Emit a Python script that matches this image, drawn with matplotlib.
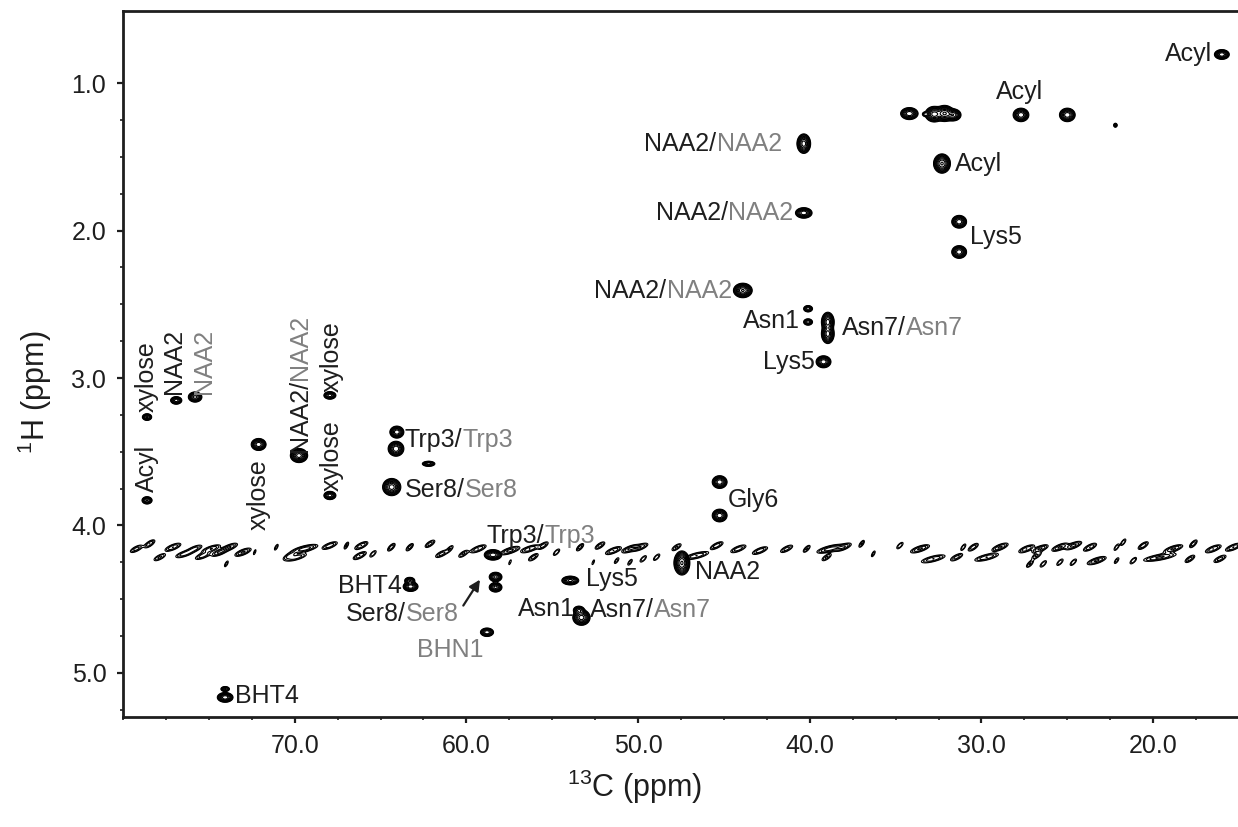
import numpy as np
import matplotlib
matplotlib.use('Agg')
import matplotlib.pyplot as plt
from matplotlib.ticker import FixedLocator, FormatStrFormatter

plt.rcParams['font.family'] = ['Liberation Sans', 'DejaVu Sans']
plt.rcParams['mathtext.default'] = 'regular'

BLACK = '#1e1e1e'
GRAY = '#808080'
FS = 18

# ── Assigned cross peaks (13C ppm, 1H ppm, intensity, linewidths) ────────────
peak_c = [16.0, 34.2, 33.3, 32.75, 32.15, 31.65, 27.7, 25.0, 22.2, 32.3,
          31.3, 31.3, 40.35, 40.35, 43.9, 40.1, 40.1, 38.95, 38.95, 39.2,
          78.6, 78.6, 76.9, 75.8, 72.1, 69.75, 67.95, 67.95, 64.05, 64.1,
          62.2, 64.35, 58.45, 58.3, 58.3, 63.3, 63.25, 58.8, 74.05, 74.05,
          45.25, 45.25, 53.95, 47.45, 53.45, 53.3]
peak_h = [0.805, 1.206, 1.21, 1.21, 1.205, 1.215, 1.215, 1.215, 1.285, 1.545,
          1.94, 2.145, 1.41, 1.88, 2.406, 2.53, 2.62, 2.62, 2.70, 2.89,
          3.83, 3.265, 3.152, 3.129, 3.451, 3.526, 3.118, 3.797, 3.367, 3.48,
          3.582, 3.74, 4.20, 4.35, 4.42, 4.375, 4.415, 4.725, 5.11, 5.167,
          3.706, 3.933, 4.374, 4.255, 4.575, 4.625]
peak_amp = [3, 3, 0.5, 4, 5, 3, 3, 3, 0.5, 5,
            3, 3, 4, 3, 5, 1.2, 1.2, 4, 4, 3,
            1.5, 1.5, 1.8, 2.5, 3, 4, 1.8, 1.8, 3, 3,
            1.2, 4, 3, 2.5, 2.5, 1.5, 3, 2, 1.0, 3,
            3, 3, 2.5, 5, 1.5, 4]
peak_wc = [0.17, 0.2, 0.08, 0.2, 0.2, 0.18, 0.18, 0.18, 0.06, 0.18,
           0.17, 0.17, 0.15, 0.19, 0.2, 0.12, 0.12, 0.14, 0.14, 0.17,
           0.13, 0.12, 0.14, 0.16, 0.17, 0.19, 0.15, 0.15, 0.16, 0.18,
           0.17, 0.2, 0.2, 0.15, 0.15, 0.13, 0.17, 0.16, 0.12, 0.18,
           0.17, 0.17, 0.2, 0.17, 0.14, 0.19]
peak_wh = [0.013, 0.016, 0.008, 0.02, 0.02, 0.016, 0.018, 0.018, 0.008, 0.024,
           0.017, 0.017, 0.025, 0.014, 0.018, 0.01, 0.01, 0.025, 0.025, 0.016,
           0.011, 0.01, 0.011, 0.014, 0.016, 0.018, 0.011, 0.012, 0.016, 0.02,
           0.008, 0.022, 0.014, 0.013, 0.013, 0.01, 0.013, 0.012, 0.008, 0.013,
           0.017, 0.017, 0.012, 0.03, 0.012, 0.02]

# ── Crowded band of weak signals around 4.1-4.3 ppm ─────────────────────────
noise_c = [79.22, 78.45, 77.86, 77.09, 76.41, 75.83, 75.34, 74.86, 74.37, 73.79,
           73.98, 73.01, 72.33, 71.07, 70.29, 69.42, 69.91, 67.96, 66.99, 66.12,
           66.21, 65.44, 64.37, 63.30, 62.12, 61.44, 60.96, 60.18, 59.31, 57.46,
           56.30, 55.52, 56.10, 54.75, 53.38, 52.22, 51.44, 50.47, 49.89, 51.25,
           50.47, 49.70, 48.92, 47.76, 52.61, 57.46, 46.59, 45.42, 44.16, 42.90,
           41.35, 40.18, 38.82, 38.05, 39.02, 36.98, 36.30, 34.75, 33.58, 32.81,
           31.45, 31.06, 30.48, 28.92, 29.70, 27.37, 26.59, 26.79, 25.43, 24.65,
           23.68, 27.18, 26.40, 25.43, 24.65, 23.29, 22.13, 21.74, 22.13, 21.16,
           20.58, 19.61, 18.83, 17.66, 17.86, 16.50, 16.11, 15.33]
noise_h = [4.159, 4.125, 4.216, 4.148, 4.193, 4.159, 4.205, 4.159, 4.182, 4.148,
           4.261, 4.182, 4.182, 4.148, 4.205, 4.159, 4.216, 4.137, 4.137, 4.137,
           4.205, 4.193, 4.148, 4.148, 4.125, 4.193, 4.159, 4.193, 4.159, 4.171,
           4.159, 4.137, 4.216, 4.182, 4.148, 4.137, 4.171, 4.159, 4.148, 4.239,
           4.250, 4.227, 4.216, 4.148, 4.250, 4.250, 4.205, 4.137, 4.159, 4.171,
           4.159, 4.159, 4.159, 4.148, 4.216, 4.125, 4.193, 4.137, 4.159, 4.227,
           4.216, 4.148, 4.148, 4.148, 4.216, 4.159, 4.159, 4.205, 4.148, 4.137,
           4.148, 4.261, 4.261, 4.250, 4.250, 4.239, 4.148, 4.114, 4.239, 4.239,
           4.137, 4.216, 4.159, 4.125, 4.227, 4.159, 4.227, 4.148]
noise_amp = [0.4, 0.5, 0.35, 0.5, 0.45, 0.4, 0.45, 0.5, 0.55, 0.5,
             0.25, 0.55, 0.2, 0.25, 0.4, 0.7, 0.45, 0.45, 0.35, 0.5,
             0.5, 0.3, 0.45, 0.4, 0.4, 0.4, 0.3, 0.35, 0.5, 0.6,
             0.5, 0.4, 0.4, 0.3, 0.4, 0.4, 0.5, 0.55, 0.5, 0.25,
             0.25, 0.3, 0.3, 0.35, 0.2, 0.2, 0.5, 0.45, 0.45, 0.45,
             0.4, 0.35, 0.7, 0.5, 0.35, 0.35, 0.25, 0.3, 0.55, 0.5,
             0.4, 0.3, 0.45, 0.55, 0.5, 0.5, 0.55, 0.35, 0.55, 0.6,
             0.5, 0.35, 0.3, 0.3, 0.3, 0.55, 0.3, 0.3, 0.25, 0.3,
             0.45, 0.55, 0.55, 0.45, 0.4, 0.5, 0.4, 0.5]
noise_wc = [0.25, 0.2, 0.25, 0.3, 0.35, 0.3, 0.3, 0.35, 0.3, 0.3,
            0.1, 0.3, 0.08, 0.1, 0.25, 0.45, 0.4, 0.3, 0.1, 0.25,
            0.25, 0.15, 0.15, 0.15, 0.2, 0.25, 0.15, 0.2, 0.3, 0.35,
            0.35, 0.2, 0.2, 0.15, 0.15, 0.2, 0.3, 0.3, 0.3, 0.12,
            0.12, 0.15, 0.15, 0.2, 0.08, 0.08, 0.45, 0.25, 0.3, 0.3,
            0.25, 0.15, 0.45, 0.3, 0.2, 0.12, 0.1, 0.15, 0.35, 0.45,
            0.25, 0.12, 0.2, 0.3, 0.45, 0.3, 0.3, 0.2, 0.3, 0.3,
            0.25, 0.15, 0.15, 0.15, 0.15, 0.35, 0.12, 0.12, 0.12, 0.15,
            0.2, 0.6, 0.35, 0.15, 0.2, 0.3, 0.25, 0.3]
NOISE_WH = 0.016

# ── Build the 2D spectrum on a grid ─────────────────────────────────────────
cc = np.arange(14.0, 81.0, 0.035)
hh = np.arange(0.45, 5.35, 0.0035)
Z = np.zeros((hh.size, cc.size))
Zn = np.zeros((hh.size, cc.size))


def add_peak(grid, c0, h0, amp, wc, wh, rho=0.0):
    ic = np.where((cc > c0 - 6 * wc) & (cc < c0 + 6 * wc))[0]
    ih = np.where((hh > h0 - 6 * wh) & (hh < h0 + 6 * wh))[0]
    u = (cc[ic] - c0) / wc
    v = (hh[ih] - h0) / wh
    U, V = np.meshgrid(u, v)
    q = (U ** 2 - 2 * rho * U * V + V ** 2) / (1 - rho ** 2)
    grid[np.ix_(ih, ic)] += amp * np.exp(-0.5 * q)


for c0, h0, a, wc, wh in zip(peak_c, peak_h, peak_amp, peak_wc, peak_wh):
    add_peak(Z, c0, h0, a, wc, wh)
for c0, h0, a, wc in zip(noise_c, noise_h, noise_amp, noise_wc):
    add_peak(Zn, c0, h0, a * 0.85, wc * 0.9, NOISE_WH, rho=0.7)

levels = 0.12 * 1.5 ** np.arange(10)

fig = plt.figure(figsize=(12.38, 8.27), dpi=100)
ax = fig.add_axes([123 / 1238, 110 / 827, 1115 / 1238, 706 / 827])
ax.contour(cc, hh, Z, levels=levels, colors='black', linewidths=0.8)
ax.contour(cc, hh, Zn, levels=[0.1, 0.16, 0.26, 0.42], colors='black', linewidths=0.8)

ax.set_xlim(80, 15.06)
ax.set_ylim(5.30, 0.51)

for side in ['left', 'top', 'bottom']:
    ax.spines[side].set_linewidth(2.0)
    ax.spines[side].set_color(BLACK)
ax.spines['right'].set_visible(False)

ax.xaxis.set_major_locator(FixedLocator([20, 30, 40, 50, 60, 70]))
ax.xaxis.set_minor_locator(FixedLocator(np.arange(15, 80.1, 2.5)))
ax.yaxis.set_major_locator(FixedLocator([1, 2, 3, 4, 5]))
ax.yaxis.set_minor_locator(FixedLocator(np.arange(1.0, 5.3, 0.25)))
ax.xaxis.set_major_formatter(FormatStrFormatter('%.1f'))
ax.yaxis.set_major_formatter(FormatStrFormatter('%.1f'))
ax.tick_params(which='major', length=4, width=1.6, labelsize=FS, colors=BLACK, pad=8)
ax.tick_params(which='minor', length=2.5, width=1.2, colors=BLACK)
ax.tick_params(axis='x', which='both', top=False)
ax.tick_params(axis='y', which='both', right=False)

fig.text(635 / 1238, 1 - 787 / 827, '$^{13}$C (ppm)', fontsize=22, color=BLACK,
         ha='center', va='center')
fig.text(35 / 1238, 1 - 392 / 827, '$^{1}$H (ppm)', fontsize=22, color=BLACK,
         ha='center', va='center', rotation=90)


# ── Labels ──────────────────────────────────────────────────────────────────
def label(c, h, black='', gray='', ha='left', va='center'):
    if black and gray:
        if ha == 'right':
            t = ax.text(c, h, gray, color=GRAY, fontsize=FS, ha='right', va=va)
            ax.annotate(black, xy=(0, 0), xycoords=t, color=BLACK, fontsize=FS,
                        ha='right', va='bottom')
        else:
            t = ax.text(c, h, black, color=BLACK, fontsize=FS, ha=ha, va=va)
            ax.annotate(gray, xy=(1, 0), xycoords=t, color=GRAY, fontsize=FS,
                        ha='left', va='bottom')
    elif black:
        ax.text(c, h, black, color=BLACK, fontsize=FS, ha=ha, va=va)
    else:
        ax.text(c, h, gray, color=GRAY, fontsize=FS, ha=ha, va=va)


def vlabel(c, h, black='', gray='', va='bottom'):
    if black:
        t = ax.text(c, h, black, color=BLACK, fontsize=FS, rotation=90,
                    ha='center', va=va)
        if gray:
            ax.annotate(gray, xy=(0.5, 1), xycoords=t, color=GRAY, fontsize=FS,
                        rotation=90, ha='center', va='bottom')
    else:
        ax.text(c, h, gray, color=GRAY, fontsize=FS, rotation=90,
                ha='center', va=va)


label(16.58, 0.805, 'Acyl', ha='right')
label(27.76, 1.057, 'Acyl', ha='center')
label(31.54, 1.545, 'Acyl')
label(30.67, 2.041, 'Lys5')
label(41.64, 1.41, 'NAA2/', 'NAA2', ha='right')
label(40.98, 1.878, 'NAA2/', 'NAA2', ha='right')
label(44.55, 2.408, 'NAA2/', 'NAA2', ha='right')
label(40.57, 2.611, 'Asn1', ha='right')
label(38.14, 2.659, 'Asn7/', 'Asn7')
label(39.70, 2.89, 'Lys5', ha='right')
label(63.58, 3.424, 'Trp3/', 'Trp3')
label(63.58, 3.763, 'Ser8/', 'Ser8')
label(44.75, 3.831, 'Gly6')
label(58.80, 4.071, 'Trp3/', 'Trp3')
label(63.77, 4.408, 'BHT4', ha='right')
label(53.03, 4.363, 'Lys5')
label(46.69, 4.317, 'NAA2')
label(60.47, 4.600, 'Ser8/', 'Ser8', ha='right')
label(59.02, 4.843, gray='BHN1', ha='right')
label(53.67, 4.567, 'Asn1', ha='right')
label(52.80, 4.571, 'Asn7/', 'Asn7')
label(73.48, 5.155, 'BHT4')

vlabel(78.62, 3.774, 'Acyl')
vlabel(78.62, 3.231, 'xylose')
vlabel(77.03, 3.107, 'NAA2')
vlabel(75.28, 3.107, gray='NAA2')
vlabel(72.08, 3.548, 'xylose', va='top')
vlabel(69.69, 3.501, 'NAA2/', 'NAA2')
vlabel(67.85, 3.093, 'xylose')
vlabel(67.85, 3.765, 'xylose')

ax.annotate('', xy=(59.21, 4.368), xytext=(60.18, 4.544),
            arrowprops=dict(arrowstyle='-|>', color=BLACK, lw=1.6,
                            mutation_scale=16, shrinkA=0, shrinkB=0))

fig.savefig('out.png', dpi=100)
